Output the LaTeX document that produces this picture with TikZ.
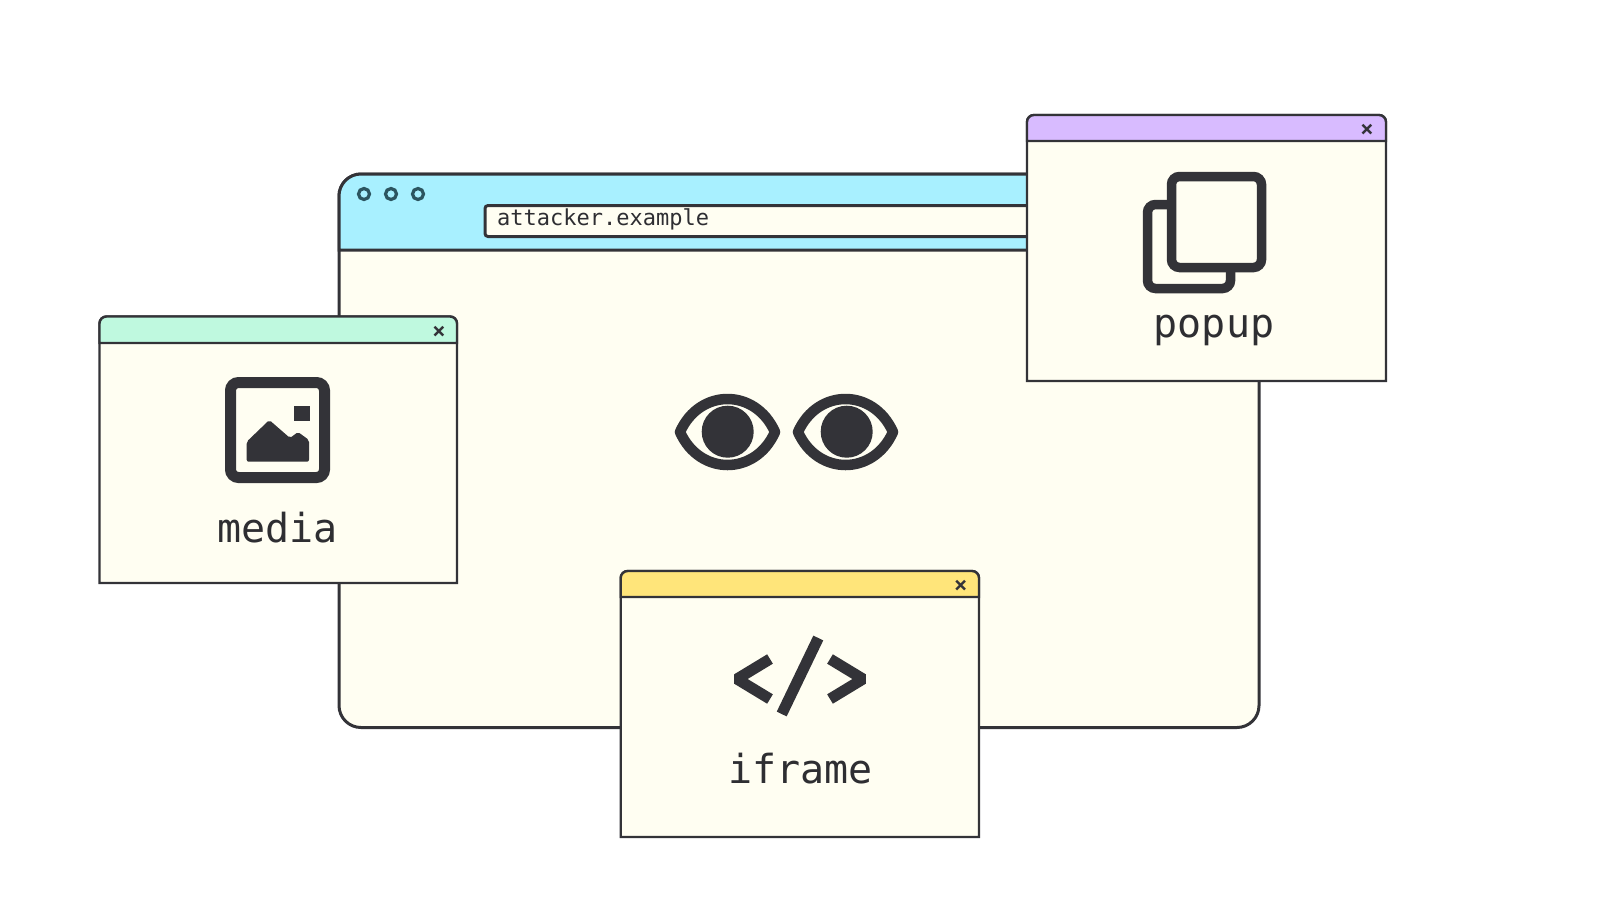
\documentclass[tikz,border=0pt]{standalone}
\usepackage{fontspec}
\usepackage{tikz}
\setmonofont{DejaVu Sans Mono}
\definecolor{WinCream}{HTML}{FFFEF2}
\definecolor{WinInk}{HTML}{333338}
\definecolor{WinDot}{HTML}{2C5560}
\definecolor{WinCyan}{HTML}{A8F0FF}
\definecolor{WinMint}{HTML}{BFF9DF}
\definecolor{WinLilac}{HTML}{D8BBFF}
\definecolor{WinYellow}{HTML}{FFE57A}

\begin{document}
\begin{tikzpicture}[
  x=1pt, y=-1pt,
  mainwin/.style = {draw=WinInk, line width=3pt, fill=WinCream},
  win/.style     = {draw=WinInk, line width=2.4pt, fill=WinCream},
  dot/.style     = {draw=WinDot, line width=3.2pt, fill=WinCyan},
  icon/.style    = {draw=WinInk, line width=11pt, rounded corners=8pt},
  solid/.style   = {fill=WinInk},
  lbl/.style     = {font=\ttfamily\fontsize{40}{40}\selectfont, text=WinInk!90!black, anchor=base, inner sep=0pt},
  url/.style     = {font=\ttfamily\fontsize{22}{22}\selectfont, text=WinInk!90!black, anchor=base west, inner sep=0pt},
  closer/.style  = {font=\ttfamily\bfseries\fontsize{22}{22}\selectfont, text=WinInk, inner sep=0pt}
]
\useasboundingbox (0,0) rectangle (1600,900);

%% ---- main browser window ---------------------------------------------
\draw[mainwin, rounded corners=22pt] (339,174) rectangle (1259,727.5);
\draw[mainwin, fill=WinCyan] (339,250) [rounded corners=22pt] -- (339,174) -- (1100,174)
  [sharp corners] -- (1100,250) -- cycle;
\foreach \dotx in {364,391,418}
  \draw[dot] (\dotx,194) circle (5.5);
\draw[draw=WinInk, line width=3pt, fill=WinCream, rounded corners=3pt] (485,205.5) rectangle (1100,236.5);
\node[url] (urltext) at (497,225) {attacker.example};

%% ---- the two eyes ----------------------------------------------------
\foreach \eyex/\pupilx in {727.5/727.7, 845.5/846.7} {
  \draw[draw=WinInk, line width=10.5pt, line join=round]
    (\eyex-47.5,432) .. controls (\eyex-28,388) and (\eyex+28,388) .. (\eyex+47.5,432)
    .. controls (\eyex+28,476) and (\eyex-28,476) .. cycle;
  \fill[solid] (\pupilx,431.7) circle (26);
}

%% ---- media window ----------------------------------------------------
\draw[win] (99.5,583) [rounded corners=7pt] -- (99.5,316.5) -- (457,316.5)
  [sharp corners] -- (457,583) -- cycle;
\draw[win, fill=WinMint] (99.5,343) [rounded corners=7pt] -- (99.5,316.5) -- (457,316.5)
  [sharp corners] -- (457,343) -- cycle;
\node[closer] (mediaclose) at (439,332) {×};
\draw[icon] (230.5,382.5) rectangle (324.5,477.5);
\fill[solid] (294,406) rectangle (310,421);
\fill[solid, rounded corners=2pt] (246.7,461.7) -- (246.7,441.7) -- (269.3,420) -- (290,438)
  -- (298,432) -- (309,440) -- (309,461.7) -- cycle;
\node[lbl] (medialbl) at (277.7,542.5) {media};

%% ---- popup window ----------------------------------------------------
\draw[win] (1027,381) [rounded corners=7pt] -- (1027,115) -- (1386,115)
  [sharp corners] -- (1386,381) -- cycle;
\draw[win, fill=WinLilac] (1027,141) [rounded corners=7pt] -- (1027,115) -- (1386,115)
  [sharp corners] -- (1386,141) -- cycle;
\node[closer] (popupclose) at (1367,130) {×};
\draw[icon, line width=9.5pt] (1171.5,176.5) rectangle (1261.5,267.5);
\draw[icon, line width=9.5pt] (1167,204.5) -- (1147.5,204.5) -- (1147.5,288.5) -- (1230.5,288.5) -- (1230.5,272);
\node[lbl] (popuplbl) at (1214,337.7) {popup};

%% ---- iframe window ---------------------------------------------------
\draw[win] (620.7,837) [rounded corners=7pt] -- (620.7,571) -- (979,571)
  [sharp corners] -- (979,837) -- cycle;
\draw[win, fill=WinYellow] (620.7,597) [rounded corners=7pt] -- (620.7,571) -- (979,571)
  [sharp corners] -- (979,597) -- cycle;
\node[closer] (iframeclose) at (960.7,586) {×};
\draw[draw=WinInk, line width=11pt, line join=bevel] (770,659) -- (737,679) -- (770,699);
\draw[draw=WinInk, line width=11pt, line join=bevel] (830,659) -- (863,679) -- (830,699);
\draw[draw=WinInk, line width=11pt] (818.3,638) -- (781.7,714);
\node[lbl] (iframelbl) at (800.5,783.5) {iframe};

\end{tikzpicture}
\end{document}
